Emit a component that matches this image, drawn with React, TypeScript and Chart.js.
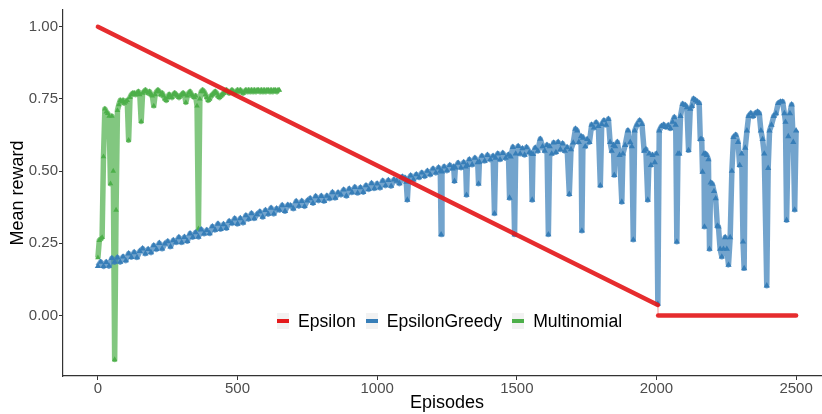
import React, { useEffect, useRef } from "react";
import { Chart, registerables } from "chart.js";

Chart.register(...registerables);

// ---------- data ----------
const seriesNames = ["Epsilon", "EpsilonGreedy", "Multinomial"];
const seriesColors = ["#E41A1C", "#377EB8", "#4DAF4A"];

// Epsilon: linear decay then 0
const epsilonEpisodes = [0, 2005, 2006, 2500];
const epsilonValues = [1.0, 0.036, 0.0, 0.0];

// EpsilonGreedy, first part: one value every 10 episodes, 0..1090
const GREEDY_STEP = 10;
const greedyEarlyValues = [
  0.170, 0.185, 0.170, 0.184, 0.171, 0.198, 0.185, 0.200, 0.185, 0.203,
  0.190, 0.214, 0.202, 0.218, 0.201, 0.222, 0.231, 0.214, 0.229, 0.218,
  0.242, 0.229, 0.250, 0.231, 0.248, 0.256, 0.238, 0.260, 0.253, 0.270,
  0.253, 0.271, 0.257, 0.283, 0.271, 0.287, 0.272, 0.297, 0.283, 0.295,
  0.284, 0.308, 0.296, 0.317, 0.299, 0.315, 0.302, 0.326, 0.319, 0.335,
  0.317, 0.336, 0.321, 0.346, 0.334, 0.353, 0.336, 0.350, 0.359, 0.341,
  0.364, 0.351, 0.372, 0.352, 0.370, 0.365, 0.381, 0.361, 0.382, 0.380,
  0.370, 0.395, 0.379, 0.396, 0.378, 0.397, 0.405, 0.389, 0.412, 0.398,
  0.413, 0.396, 0.414, 0.405, 0.426, 0.407, 0.425, 0.418, 0.435, 0.414,
  0.438, 0.426, 0.444, 0.424, 0.443, 0.427, 0.450, 0.437, 0.457, 0.440,
  0.456, 0.442, 0.466, 0.450, 0.468, 0.448, 0.470, 0.466, 0.457, 0.480,
];

// EpsilonGreedy, second part: episodes and values, 1100..2500
const greedyLateEpisodes = [
  1100, 1104, 1108, 1112, 1120, 1130, 1140, 1150, 1160, 1170, 1180, 1190,
  1200, 1210, 1220, 1226, 1229, 1232, 1240, 1250, 1260, 1270, 1274, 1277, 1280, 1290,
  1300, 1310, 1317, 1320, 1323, 1330, 1340, 1350, 1360, 1363, 1366, 1375, 1385, 1395,
  1405, 1415, 1420, 1424, 1432, 1440, 1450, 1460, 1470, 1474, 1478, 1486, 1492, 1496,
  1505, 1512, 1520, 1528, 1535, 1545, 1552, 1555, 1558, 1566, 1575, 1584, 1592,
  1600, 1608, 1613, 1618, 1625, 1632, 1640, 1648, 1656, 1664, 1672, 1680, 1688, 1694,
  1702, 1710, 1716, 1722, 1730, 1733, 1737, 1745, 1752, 1760, 1768, 1776, 1784, 1792, 1799,
  1804, 1812, 1820, 1828, 1834, 1840, 1846, 1849, 1852, 1860, 1868, 1876, 1880, 1888, 1898,
  1906, 1912, 1917, 1922, 1930, 1940, 1948, 1956, 1962, 1969, 1974, 1980, 1986, 1994,
  2000, 2005, 2010, 2018, 2026, 2034, 2042, 2050, 2058, 2064, 2069, 2073, 2077, 2082, 2086, 2094,
  2103, 2109, 2115, 2121, 2127, 2133, 2140, 2146, 2153, 2157, 2162, 2165, 2170, 2172, 2175, 2180, 2186, 2190, 2194,
  2200, 2206, 2212, 2218, 2222, 2228, 2234, 2240, 2246, 2252, 2258, 2264, 2270, 2276, 2284, 2292, 2298,
  2305, 2310, 2314, 2318, 2324, 2330, 2338, 2346, 2354, 2362, 2368, 2374, 2380, 2386, 2395,
  2400, 2405, 2412, 2420, 2428, 2436, 2444, 2452, 2458, 2462, 2466, 2472, 2478, 2484, 2490, 2495,
  2500,
];
const greedyLateValues = [
  0.476, 0.462, 0.400, 0.470, 0.484, 0.470, 0.488, 0.478, 0.494, 0.482, 0.500, 0.488,
  0.508, 0.494, 0.512, 0.500, 0.280, 0.498, 0.515, 0.502, 0.520, 0.508, 0.515, 0.465, 0.512, 0.528,
  0.512, 0.530, 0.515, 0.417, 0.520, 0.540, 0.522, 0.545, 0.530, 0.456, 0.532, 0.552, 0.535, 0.555,
  0.540, 0.552, 0.353, 0.545, 0.560, 0.540, 0.562, 0.545, 0.556, 0.407, 0.550, 0.583, 0.280, 0.560,
  0.586, 0.560, 0.578, 0.556, 0.582, 0.565, 0.560, 0.400, 0.558, 0.580, 0.570, 0.611, 0.585,
  0.570, 0.590, 0.280, 0.585, 0.560, 0.598, 0.565, 0.600, 0.575, 0.595, 0.570, 0.582, 0.420, 0.575,
  0.598, 0.646, 0.640, 0.600, 0.620, 0.293, 0.615, 0.585, 0.610, 0.600, 0.660, 0.650, 0.668, 0.655, 0.450,
  0.662, 0.675, 0.660, 0.680, 0.600, 0.570, 0.590, 0.486, 0.585, 0.600, 0.555, 0.393, 0.560, 0.590, 0.640,
  0.600, 0.585, 0.262, 0.640, 0.660, 0.675, 0.662, 0.570, 0.575, 0.400, 0.560, 0.520, 0.555, 0.530,
  0.560, 0.040, 0.640, 0.655, 0.660, 0.652, 0.658, 0.648, 0.670, 0.686, 0.660, 0.255, 0.560, 0.560, 0.690, 0.732,
  0.728, 0.720, 0.572, 0.715, 0.725, 0.750, 0.745, 0.740, 0.735, 0.610, 0.610, 0.497, 0.560, 0.307, 0.560, 0.555, 0.540, 0.230, 0.460,
  0.455, 0.430, 0.405, 0.310, 0.307, 0.230, 0.203, 0.230, 0.270, 0.230, 0.175, 0.270, 0.500, 0.617, 0.625, 0.600, 0.520,
  0.560, 0.255, 0.163, 0.580, 0.640, 0.690, 0.700, 0.690, 0.700, 0.705, 0.700, 0.640, 0.610, 0.560, 0.103,
  0.510, 0.640, 0.660, 0.690, 0.700, 0.735, 0.740, 0.740, 0.700, 0.670, 0.330, 0.620, 0.700, 0.730, 0.600, 0.366,
  0.640,
];

// Multinomial: one value every 5 episodes, 0..650
const MULTI_STEP = 5;
const multinomialValues = [
  0.200, 0.260, 0.265, 0.270, 0.550, 0.715, 0.705, 0.700, 0.690, 0.456,
  0.690, 0.500, -0.153, 0.365, 0.710, 0.730, 0.745, 0.740, 0.745, 0.735,
  0.740, 0.745, 0.607, 0.755, 0.765, 0.770, 0.770, 0.765, 0.770, 0.775,
  0.765, 0.672, 0.770, 0.775, 0.780, 0.775, 0.770, 0.775, 0.765, 0.760,
  0.726, 0.765, 0.775, 0.780, 0.775, 0.765, 0.770, 0.760, 0.750, 0.745,
  0.755, 0.765, 0.760, 0.755, 0.765, 0.770, 0.765, 0.760, 0.755, 0.760,
  0.765, 0.770, 0.765, 0.738, 0.760, 0.770, 0.775, 0.765, 0.760, 0.755,
  0.760, 0.726, 0.300, 0.750, 0.775, 0.780, 0.775, 0.765, 0.755, 0.745,
  0.750, 0.760, 0.765, 0.770, 0.775, 0.770, 0.760, 0.755, 0.760, 0.765,
  0.770, 0.775, 0.780, 0.775, 0.770, 0.775, 0.780, 0.775, 0.770, 0.775,
  0.780, 0.775, 0.780, 0.775, 0.770, 0.775, 0.780, 0.775, 0.780, 0.775,
  0.780, 0.775, 0.780, 0.775, 0.780, 0.780, 0.775, 0.780, 0.775, 0.780,
  0.775, 0.780, 0.780, 0.775, 0.780, 0.775, 0.780, 0.780, 0.775, 0.780,
  0.780,
];

const xTicks = [0, 500, 1000, 1500, 2000, 2500];
const yTicks = [0, 0.25, 0.5, 0.75, 1.0];
const xTitle = "Episodes";
const yTitle = "Mean reward";

// ---------- helpers ----------
const FONT = '"Liberation Sans", Arial, Helvetica, sans-serif';
const CANVAS_W = 840;

function alpha(hex: string, a: number) {
  const n = parseInt(hex.slice(1), 16);
  return `rgba(${(n >> 16) & 255},${(n >> 8) & 255},${n & 255},${a})`;
}

export default function App() {
  const canvasRef = useRef<HTMLCanvasElement | null>(null);

  useEffect(() => {
    const canvas = canvasRef.current;
    if (!canvas) return;

    const epsilonData = epsilonEpisodes.map((x, i) => ({ x, y: epsilonValues[i] }));
    const greedyData = [
      ...greedyEarlyValues.map((y, i) => ({ x: i * GREEDY_STEP, y })),
      ...greedyLateEpisodes.map((x, i) => ({ x, y: greedyLateValues[i] })),
    ];
    const multiData = multinomialValues.map((y, i) => ({ x: i * MULTI_STEP, y }));

    const chart = new Chart(canvas, {
      type: "line",
      data: {
        datasets: [
          {
            label: seriesNames[0],
            data: epsilonData,
            borderColor: alpha(seriesColors[0], 0.92),
            borderWidth: 4.5,
            borderCapStyle: "round",
            pointRadius: 0,
            order: 0,
            segment: {
              borderColor: (ctx: any) =>
                Math.abs(ctx.p1.parsed.x - ctx.p0.parsed.x) < 5 ? alpha(seriesColors[0], 0.3) : undefined,
              borderWidth: (ctx: any) =>
                Math.abs(ctx.p1.parsed.x - ctx.p0.parsed.x) < 5 ? 1.5 : undefined,
            },
          },
          {
            label: seriesNames[1],
            data: greedyData,
            borderColor: alpha(seriesColors[1], 0.7),
            borderWidth: 5.5,
            borderJoinStyle: "round",
            pointStyle: "triangle",
            pointRadius: 3.6,
            pointBackgroundColor: seriesColors[1],
            pointBorderColor: seriesColors[1],
            pointBorderWidth: 0,
            order: 1,
          },
          {
            label: seriesNames[2],
            data: multiData,
            borderColor: alpha(seriesColors[2], 0.7),
            borderWidth: 5.5,
            borderJoinStyle: "round",
            pointStyle: "triangle",
            pointRadius: 3.2,
            pointBackgroundColor: seriesColors[2],
            pointBorderColor: seriesColors[2],
            pointBorderWidth: 0,
            order: 2,
          },
        ],
      },
      options: {
        animation: false,
        responsive: false,
        layout: { padding: { top: 8, right: 9, bottom: 0, left: 0 } },
        plugins: { legend: { display: false }, tooltip: { enabled: false } },
        elements: { line: { tension: 0 } },
        scales: {
          x: {
            type: "linear",
            min: -125,
            max: 2625,
            afterBuildTicks: (s: any) => {
              s.ticks = xTicks.map((v) => ({ value: v }));
            },
            afterFit: (s: any) => {
              s.height = 38;
            },
            grid: { drawOnChartArea: false, tickLength: 4, tickColor: "#333", tickWidth: 1 },
            border: { color: "#333", width: 1.2 },
            ticks: {
              color: "#4d4d4d",
              font: { size: 15, family: FONT },
              padding: 0,
              maxRotation: 0,
              autoSkip: false,
              callback: (v: any) => String(v),
            },
            title: {
              display: true,
              text: xTitle,
              color: "#000",
              font: { size: 18, family: FONT },
              padding: { top: 0, bottom: 0 },
            },
          },
          y: {
            type: "linear",
            min: -0.21,
            max: 1.058,
            afterBuildTicks: (s: any) => {
              s.ticks = yTicks.map((v) => ({ value: v }));
            },
            afterFit: (s: any) => {
              s.width = 63;
            },
            grid: { drawOnChartArea: false, tickLength: 4, tickColor: "#333", tickWidth: 1 },
            border: { color: "#333", width: 1.2 },
            ticks: {
              color: "#4d4d4d",
              font: { size: 15, family: FONT },
              padding: 1,
              autoSkip: false,
              callback: (v: any) => Number(v).toFixed(2),
            },
            title: {
              display: true,
              text: yTitle,
              color: "#000",
              font: { size: 18, family: FONT },
              padding: { top: 7, bottom: 0 },
            },
          },
        },
      },
    });

    return () => chart.destroy();
  }, []);

  const keyStyle: React.CSSProperties = {
    display: "inline-block",
    position: "relative",
    width: 12,
    height: 16,
    background: "#f2f2f2",
  };

  return (
    <div
      style={{
        position: "absolute",
        left: 0,
        top: 0,
        width: 822,
        height: 414,
        overflow: "hidden",
        background: "#fff",
      }}
    >
      <canvas ref={canvasRef} width={CANVAS_W} height={414} style={{ display: "block" }} />
      <div
        style={{
          position: "absolute",
          left: 277,
          top: 313,
          display: "flex",
          alignItems: "center",
          fontFamily: FONT,
          fontSize: 17.6,
          lineHeight: "16px",
          color: "#000",
          whiteSpace: "nowrap",
        }}
      >
        {seriesNames.map((name, i) => (
          <div key={name} style={{ display: "flex", alignItems: "center", marginRight: 10 }}>
            <span style={keyStyle}>
              <span
                style={{
                  position: "absolute",
                  left: 0,
                  right: 0,
                  top: 6,
                  height: 4,
                  background: seriesColors[i],
                }}
              />
            </span>
            <span style={{ marginLeft: 9 }}>{name}</span>
          </div>
        ))}
      </div>
    </div>
  );
}
